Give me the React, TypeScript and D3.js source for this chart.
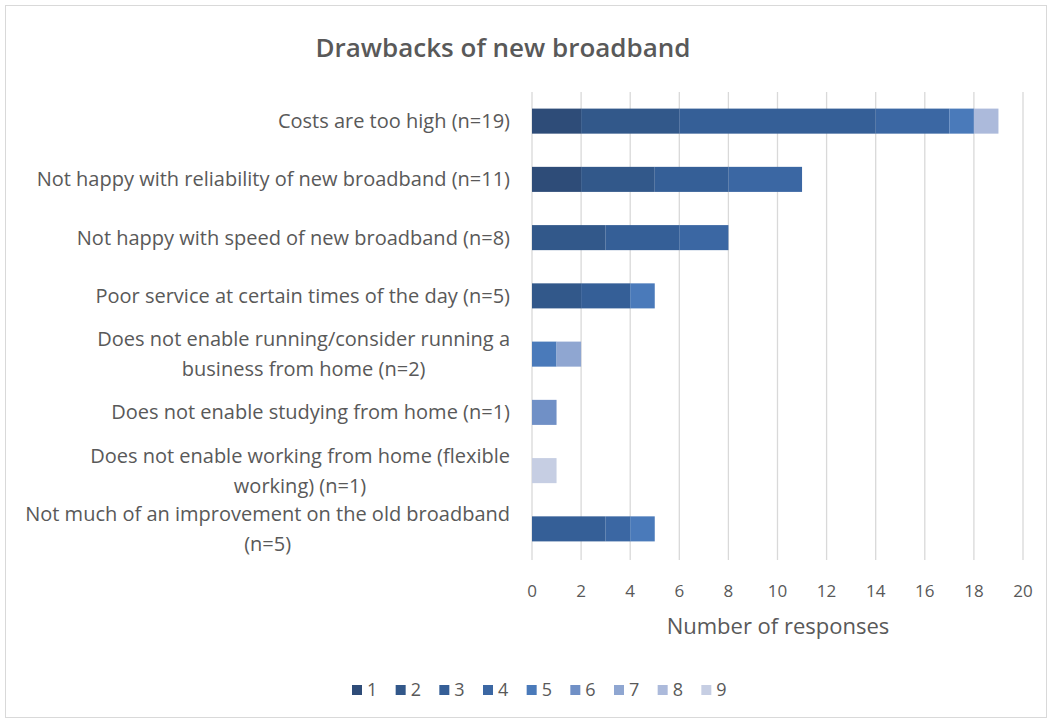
import React from "react";
import * as d3 from "d3";

const categories = [
  "Costs are too high (n=19)",
  "Not happy with reliability of new broadband (n=11)",
  "Not happy with speed of new broadband (n=8)",
  "Poor service at certain times of the day (n=5)",
  "Does not enable running/consider running a business from home (n=2)",
  "Does not enable studying from home (n=1)",
  "Does not enable working from home (flexible working) (n=1)",
  "Not much of an improvement on the old broadband (n=5)",
];

const labelLines = [
  ["Costs are too high (n=19)"],
  ["Not happy with reliability of new broadband (n=11)"],
  ["Not happy with speed of new broadband (n=8)"],
  ["Poor service at certain times of the day (n=5)"],
  ["Does not enable running/consider running a", "business from home (n=2)"],
  ["Does not enable studying from home (n=1)"],
  ["Does not enable working from home (flexible", "working) (n=1)"],
  ["Not much of an improvement on the old broadband", "(n=5)"],
];

const seriesNames = ["1", "2", "3", "4", "5", "6", "7", "8", "9"];

const s1 = [2, 2, 0, 0, 0, 0, 0, 0];
const s2 = [4, 3, 3, 2, 0, 0, 0, 0];
const s3 = [8, 3, 3, 2, 0, 0, 0, 3];
const s4 = [3, 3, 2, 0, 0, 0, 0, 1];
const s5 = [1, 0, 0, 1, 1, 0, 0, 1];
const s6 = [0, 0, 0, 0, 0, 1, 0, 0];
const s7 = [0, 0, 0, 0, 1, 0, 0, 0];
const s8 = [1, 0, 0, 0, 0, 0, 0, 0];
const s9 = [0, 0, 0, 0, 0, 0, 1, 0];
const seriesValues = [s1, s2, s3, s4, s5, s6, s7, s8, s9];

const xTicks = [0, 2, 4, 6, 8, 10, 12, 14, 16, 18, 20];

const colors = [
  "#2e4c78",
  "#32588a",
  "#355f97",
  "#3b67a3",
  "#4a7aba",
  "#7090c6",
  "#8fa6d1",
  "#acbadb",
  "#c6cee3",
];

const W = 1053;
const H = 724;
const FONT = "'Open Sans', 'Noto Sans', sans-serif";
const TEXT = "#595959";
const LABEL_SIZE = 20;

let ctx: CanvasRenderingContext2D | null = null;
function measure(s: string, size: number) {
  if (!ctx) {
    const c = document.createElement("canvas");
    ctx = c.getContext("2d");
  }
  if (!ctx) return s.length * size * 0.5;
  ctx.font = `${size}px 'Open Sans', 'Noto Sans', sans-serif`;
  return ctx.measureText(s).width;
}

export default function App() {
  const x = d3.scaleLinear().domain([0, 20]).range([532, 1023]);
  const y = d3
    .scaleBand<string>()
    .domain(categories)
    .range([92, 558])
    .paddingInner(0.57)
    .paddingOuter(0.285);

  const rows = categories.map((c, i) => {
    const obj: any = { cat: c };
    seriesNames.forEach((s, j) => (obj[s] = seriesValues[j][i]));
    return obj;
  });
  const stack = d3.stack<any>().keys(seriesNames)(rows);

  const legendX = d3.scaleBand<string>().domain(seriesNames).range([352, 745]);
  const labelRight = 510;

  return (
    <svg
      width={W}
      height={H}
      style={{ position: "absolute", left: 0, top: 0, background: "#fff" }}
      fontFamily={FONT}
    >
      <rect x={5.5} y={5.5} width={1041} height={712} fill="#fff" stroke="#d9d9d9" />
      <text x={503} y={57} textAnchor="middle" fontSize={26} fontWeight={600} fill={TEXT}>
        Drawbacks of new broadband
      </text>
      {xTicks.map((t) => (
        <line key={t} x1={x(t)} x2={x(t)} y1={92} y2={560} stroke="#d9d9d9" strokeWidth={1.3} />
      ))}
      {stack.map((layer, j) => (
        <g key={j} fill={colors[j]}>
          {layer.map((d, i) =>
            d[1] - d[0] > 0 ? (
              <rect
                key={i}
                x={x(d[0])}
                width={x(d[1]) - x(d[0])}
                y={y(categories[i])}
                height={y.bandwidth()}
              />
            ) : null
          )}
        </g>
      ))}
      {categories.map((c, i) => {
        const lines = labelLines[i];
        const cy = (y(c) as number) + y.bandwidth() / 2;
        const lh = 30;
        const y0 = cy - ((lines.length - 1) * lh) / 2 + 7;
        const w0 = measure(lines[0], LABEL_SIZE);
        const center = labelRight - w0 / 2;
        return (
          <text key={c} fontSize={LABEL_SIZE} fill={TEXT}>
            {lines.map((l, k) => (
              <tspan
                key={k}
                x={lines.length === 1 ? labelRight : center}
                y={y0 + k * lh}
                textAnchor={lines.length === 1 ? "end" : "middle"}
              >
                {l}
              </tspan>
            ))}
          </text>
        );
      })}
      {xTicks.map((t) => (
        <text key={t} x={x(t)} y={597} textAnchor="middle" fontSize={17} fill={TEXT}>
          {t}
        </text>
      ))}
      <text x={778} y={634} textAnchor="middle" fontSize={22} fill={TEXT}>
        Number of responses
      </text>
      {seriesNames.map((s, j) => (
        <g key={s} transform={`translate(${legendX(s)},690)`}>
          <rect x={0} y={-5} width={10} height={10} fill={colors[j]} />
          <text x={15} y={6} fontSize={18} fill={TEXT}>
            {s}
          </text>
        </g>
      ))}
    </svg>
  );
}
